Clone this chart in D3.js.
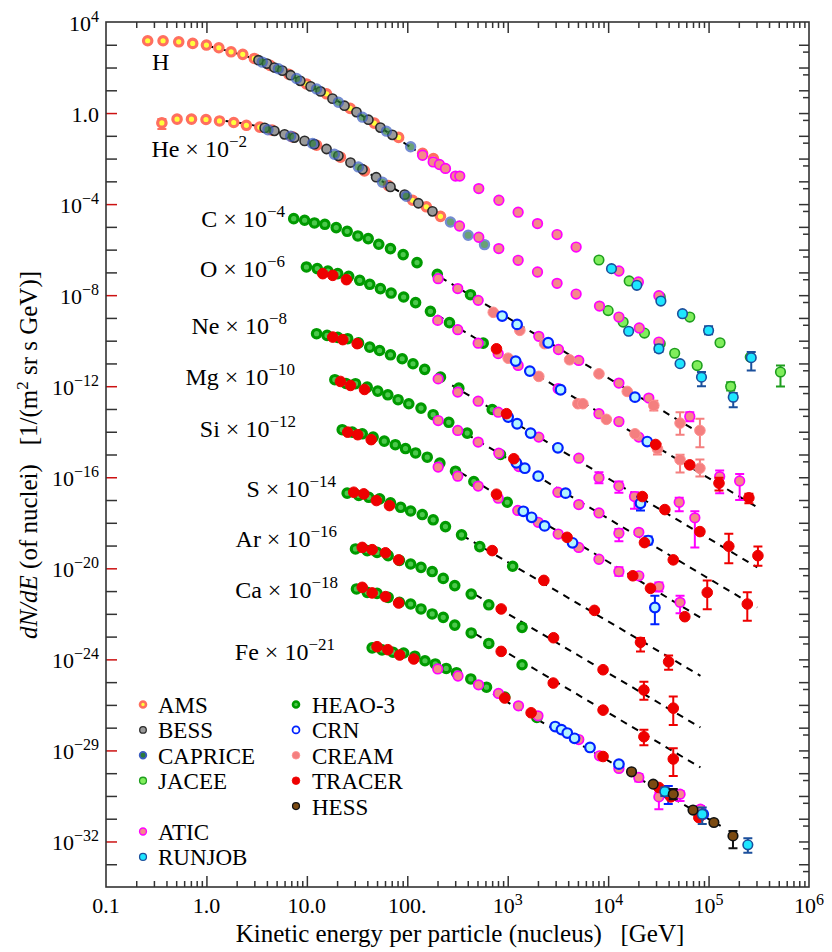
<!DOCTYPE html>
<html>
<head>
<meta charset="utf-8">
<script src="https://cdn.jsdelivr.net/npm/d3@7"></script>
<style>
  body { margin: 0; background: #fff; }
  text { font-family: "Liberation Serif", "Times New Roman", "DejaVu Serif", serif; fill: #000; }
</style>
</head>
<body>
<svg id="chart" width="832" height="952"></svg>
<script>
// points are [E (GeV), scaled flux] or [E, flux, errLow, errHigh]

// H
const H_AMS = [[0.26,1.5e3],[0.37,1.5e3],[0.53,1.35e3],[0.73,1.15e3],[1.0,9.7e2],[1.33,7.4e2],[1.76,4.9e2],[2.3,3.8e2],[3.0,2.5e2],[4.3,124],[6.6,51],[9.9,19],[15.7,7.0],[27,1.6],[47,0.36],[82,0.085],[142,0.017],[182,0.010]];
const H_BESS = [[3.3,210],[4.0,149],[4.75,100],[5.7,73],[6.9,46],[8.6,26],[10.9,14.8],[13.7,8.9],[18,4.3],[23.7,2.1],[31.2,1.1],[41,0.51],[54,0.23],[71,0.11]];
const H_CAPRICE = [[3.6,173],[5.2,88],[7.9,33],[12.5,11.5],[20.6,3.0],[35.8,0.66],[62,0.16],[108,0.033]];
const H_ATIC = [[142,0.014],[181,0.0071],[209,0.0055],[240,0.0037],[302,1.7e-3],[333,1.7e-3],[515,4.8e-4],[817,1.48e-4],[1.27e3,4.4e-5],[1.98e3,1.39e-5],[3.1e3,4.6e-6],[4.8e3,1.3e-6],[1.28e4,1.15e-7],[2.0e4,3.8e-8],[3.2e4,9.5e-9]];
const H_JACEE = [[8.1e3,3.5e-7],[1.62e4,4.2e-8],[3.3e4,8.3e-9],[6.5e4,1.09e-9],[1.3e5,8.1e-11],[2.6e5,1.9e-11],[5.2e5,4.2e-12,9.8e-13,8.1e-12]];
const H_RUNJOB = [[1.08e4,1.46e-7],[1.93e4,2.7e-8],[3.35e4,5.5e-9],[5.5e4,1.53e-9],[1.0e5,2.8e-10,1.9e-10,4.3e-10],[2.66e5,1.8e-11,4.9e-12,3.2e-11]];

// He x 1e-2
const HE_AMS = [[0.36,0.37,0.2,0.55],[0.51,0.54],[0.71,0.54],[0.99,0.52],[1.35,0.45],[1.87,0.385],[2.5,0.29],[3.4,0.24],[4.5,0.177],[7.2,0.0898],[12.5,0.0387],[21.6,0.0115],[37.5,2.87e-3],[65,6.5e-4],[113,1.48e-4],[155,7.6e-5],[214,2.9e-5]];
const HE_BESS = [[3.8,0.223],[4.75,0.165],[6.0,0.116],[7.5,0.0836],[9.5,0.0598],[11.9,0.0429],[15.7,0.0264],[20.6,0.0132],[27.2,6.7e-3],[35.8,3.4e-3],[49,1.52e-3],[68,5.7e-4],[94,2.6e-4],[129,1.09e-4],[178,4.8e-5]];
const HE_CAPRICE = [[4.1,0.186],[6.9,0.096],[11.4,0.046],[18.8,0.0156],[32.6,4.3e-3],[56.6,9.1e-4],[98,2.2e-4],[269,1.64e-5],[404,4.3e-6],[587,1.66e-6]];
const HE_ATIC = [[331,1.09e-5],[515,3.5e-6],[815,1.11e-6],[1.27e3,3.4e-7],[1.98e3,1.04e-7],[3.1e3,3.3e-8],[4.8e3,1.12e-8],[8.2e3,3.3e-9],[1.28e4,1.09e-9],[2.04e4,3.6e-10],[3.2e4,8.7e-11]];
const HE_JACEE = [[1.0e4,2.1e-9],[1.41e4,6.6e-10],[2.3e4,2.15e-10],[3.3e4,7.4e-11],[4.6e4,2.8e-11],[7.7e4,8.1e-12],[1.66e5,9.8e-13,6.5e-13,1.5e-12]];
const HE_RUNJOB = [[1.6e4,2.6e-10],[3.2e4,4.4e-11,3.2e-11,6.6e-11],[5.2e4,9.8e-12],[8.5e4,2.5e-12,1.0e-12,4.2e-12],[1.76e5,3.3e-13,1.2e-13,5e-13]];

// C x 1e-4
const C_HEAO = [[7.4,2.3e-5],[9.5,1.95e-5],[11.9,1.49e-5],[15.1,1.3e-5],[19.6,9.3e-6],[25.2,6.4e-6],[32.2,4.0e-6],[40.8,3.06e-6],[52,1.72e-6],[68,1.11e-6],[91,6.05e-7],[125,2.7e-7],[199,8.2e-8],[426,1.05e-8]];
const C_ATIC = [[203,5.3e-8],[318,1.94e-8],[508,5.9e-9],[2.04e3,1.55e-10],[3.2e3,4.1e-11],[5.1e3,1.36e-11],[1.28e4,1.37e-12],[2.54e4,3.0e-13],[6.5e4,4.7e-14,2.9e-14,7.2e-14]];
const C_CREAM = [[718,1.76e-9],[1.32e3,2.84e-10],[2.33e3,7.4e-11],[4.13e3,1.45e-11],[8.1e3,3.5e-12],[1.55e4,5.9e-13],[2.85e4,1.43e-13,8.5e-14,2.3e-13],[5.2e4,2.4e-14,7.4e-15,7.2e-14],[8.2e4,1.14e-14,2.1e-15,3.7e-14]];
const C_CRN = [[881,1.21e-9],[1.24e3,5.2e-10],[2.53e3,8.1e-11],[1.85e4,3.3e-13]];

// O x 1e-6
const O_HEAO = [[9.9,1.73e-7],[12.7,1.47e-7],[16.2,1.15e-7],[20.3,8.8e-8],[26.1,6.7e-8],[33.6,4.5e-8],[42.3,3.0e-8],[54,1.94e-8],[69,1.24e-8],[92,8.3e-9],[121,4.7e-9],[170,1.95e-9],[263,6.2e-10],[570,7.8e-11]];
const O_TRACER = [[14.4,8.8e-8],[18.1,7.4e-8],[24.8,4.8e-8],[773,4.4e-11],[2.97e4,2.75e-15],[6.5e4,3.5e-16],[1.27e5,5.5e-17,2.6e-17,9.5e-17],[2.52e5,1.25e-17,7.2e-18,1.9e-17]];
const O_ATIC = [[201,7.8e-10],[318,3.05e-10],[508,7.8e-11],[804,2.7e-11],[1.27e3,8.2e-12],[3.18e3,7.8e-13],[8.1e3,6.2e-14],[1.28e4,2.8e-14],[2.02e4,5.8e-15],[1.29e5,1.07e-16,2.0e-17,2.0e-16],[2.04e5,6.9e-17,1.0e-17,1.4e-16]];
const O_CREAM = [[1.01e3,1.7e-11],[2.04e3,2.7e-12],[5.0e3,1.7e-13],[5.6e3,1.7e-13],[9.6e3,3.5e-14],[1.85e4,8.1e-15],[3.1e4,1.78e-15,1.0e-15,2.95e-15],[5.2e4,5.9e-16,1.6e-16,9.8e-16],[8.2e4,2.5e-16,1.07e-16,6e-16]];
const O_CRN = [[1.2e3,1.27e-11],[1.66e3,4.6e-12],[3.36e3,7.0e-13],[2.45e4,3.7e-15]];

// Ne x 1e-8
const NE_HEAO = [[12.5,2.03e-10],[15.9,1.71e-10],[20.3,1.4e-10],[25.5,1.22e-10],[32.7,8.0e-11],[42.3,5.2e-11],[53,3.7e-11],[68,2.4e-11],[89,1.61e-11],[114,9.7e-12],[149,5.5e-12],[214,2.5e-12],[326,8.2e-13],[701,9.5e-14]];
const NE_TRACER = [[18.1,1.44e-10],[22.8,1.11e-10],[31.7,7.4e-11],[973,6.2e-14],[2.19e4,1.42e-17],[3.67e4,3.8e-18],[8.2e4,4.1e-19],[1.59e5,9.3e-20,1.66e-20,3.3e-19],[3.1e5,3.6e-20,1.3e-20,9e-20]];
const NE_ATIC = [[203,2.1e-12],[318,5.5e-13],[508,2.2e-13],[804,7.2e-14],[2.04e3,5.8e-15],[5.1e3,6.9e-16],[8.1e3,9.5e-17,5.5e-17,1.66e-16],[1.28e4,4.1e-17,2.1e-17,6.5e-17],[1.83e4,1.42e-17,4.1e-18,2.2e-17],[5.1e4,8e-18,3.2e-18,1.26e-17],[7.3e4,1.65e-18,8.3e-20,3.2e-18]];
const NE_CRN = [[1.01e3,4.4e-14],[1.24e3,2.24e-14],[1.69e3,8.7e-15],[3.16e3,1.97e-15],[2.1e4,7.2e-18,3.5e-18,1.4e-17]];

// Mg x 1e-10
const MG_HEAO = [[19.0,1.93e-12],[24.5,1.32e-12],[30.5,1.29e-12],[39.9,9.1e-13],[50.8,6.1e-13],[64,4.2e-13],[81,2.56e-13],[103.5,1.7e-13],[137,1.09e-13],[181,5.6e-14],[259,2.6e-14],[395,8.7e-15],[847,1.0e-15]];
const MG_TRACER = [[21.6,1.62e-12],[27.2,1.08e-12],[37.5,7.2e-13],[1.15e3,6.5e-16],[2.3e4,1.35e-19],[4.45e4,2.35e-20],[9.7e4,8.7e-22,1.6e-22,2.9e-21],[2.43e5,2.7e-22,5e-23,8.9e-22]];
const MG_ATIC = [[203,3.1e-14],[318,1.14e-14],[508,3.5e-15],[815,1.14e-15],[1.29e3,2.95e-16],[3.16e3,2.2e-17],[5.1e3,6.3e-18],[8.1e3,2.7e-18],[1.28e4,3.5e-19,1.55e-19,5.4e-19],[2.02e4,3.8e-19]];
const MG_CRN = [[1.22e3,4.3e-16],[1.48e3,2.5e-16],[2.01e3,1.12e-16],[3.77e3,2.0e-17],[2.5e4,1.66e-19,1.1e-19,2.5e-19]];

// Si x 1e-12
const SI_HEAO = [[22.5,1.23e-14],[28.3,9.6e-15],[35.6,8.1e-15],[45.7,5.8e-15],[59,3.85e-15],[76,2.7e-15],[96,1.83e-15],[121,1.17e-15],[158,7.6e-16],[211,4.2e-16],[302,1.85e-16],[460,6.5e-17],[989,8e-18]];
const SI_TRACER = [[25.5,9.6e-15],[32.1,7.4e-15],[43.7,4.5e-15],[773,1.8e-17],[3.9e3,2.3e-19],[1.76e4,4.7e-21],[2.64e4,1.32e-21],[5.8e4,7.5e-23]];
const SI_ATIC = [[203,2.8e-16],[318,1.12e-16],[508,4.1e-17],[804,1.2e-17],[1.26e3,3.5e-18],[2.01e3,1.05e-18],[3.18e3,3.2e-19],[5.1e3,8.3e-20],[8.1e3,2.5e-20],[1.28e4,7.2e-21,4.7e-21,1.1e-20],[2.02e4,4.7e-21],[3.2e4,1.58e-21,9.5e-22,2.4e-21],[5.2e4,3.2e-22,1.05e-22,6.3e-22]];
const SI_CRN = [[1.43e3,3.2e-18],[1.73e3,1.74e-18],[2.33e3,7.3e-19],[4.42e3,1.32e-19],[2.92e4,1.9e-22,3.5e-23,6.3e-22]];

// S x 1e-14
const S_HEAO = [[25.2,2.0e-17],[32.9,1.58e-17],[41.4,1.32e-17],[53,1.12e-17],[68,7.6e-18],[86,4.8e-18],[108,3.3e-18],[141,2.3e-18],[181,1.35e-18],[240,6.8e-19],[347,2.95e-19],[527,9e-20],[1.12e3,1.23e-20]];
const S_TRACER = [[29.3,2.2e-17],[36.9,1.86e-17],[49.3,9.5e-18],[66.5,5.7e-18],[701,6.0e-20],[2.29e3,2.95e-21],[7.3e3,1.42e-22],[2.1e4,5.6e-24,2.2e-24,8.7e-24],[4.0e4,7.9e-25,3.5e-25,1.48e-24]];

// Ar x 1e-16
const AR_HEAO = [[30.5,7.1e-20],[39.9,6.0e-20],[50,5.0e-20],[64.5,3.6e-20],[83.6,2.24e-20],[108,1.55e-20],[137,1.1e-20],[177,7.2e-21],[228,3.6e-21],[297,1.74e-21],[433,7.4e-22],[648,2.5e-22],[1.39e3,2.55e-23]];
const AR_TRACER = [[35.6,8.3e-20],[44.7,6.6e-20],[60.7,4.8e-20],[82,2.34e-20],[861,1.64e-22],[2.86e3,8.9e-24],[8.9e3,3.5e-25],[2.27e4,4.5e-26,1.7e-26,1.05e-25],[4.45e4,7.2e-27,1.3e-27,2.35e-26]];

// Ca x 1e-18
const CA_HEAO = [[31.2,1.24e-21],[39.9,8.8e-22],[50,7.9e-22],[64.5,5.3e-22],[83.6,3.2e-22],[108,2.7e-22],[137,1.64e-22],[177,9.9e-23],[228,7.0e-23],[297,3.2e-23],[433,1.45e-23],[648,5.0e-24],[1.39e3,5.8e-25]];
const CA_TRACER = [[35.6,1.46e-21],[44.7,8.3e-22],[60.7,5.7e-22],[82,3.0e-22],[861,2.24e-24],[2.84e3,9.1e-26],[8.9e3,5.9e-27],[2.27e4,4.0e-28,1.7e-28,8.1e-28],[4.45e4,4.2e-29,7.6e-30,1.23e-28]];

// Fe x 1e-21
const FE_HEAO = [[44.7,3.2e-24],[56,2.6e-24],[72,2.07e-24],[92,1.9e-24],[119,1.38e-24],[150,8.7e-25],[190,6.3e-25],[244,4.0e-25],[309,2.6e-25],[429,1.38e-25],[615,6.0e-26],[935,2.2e-26],[1.95e3,2.8e-27]];
const FE_TRACER = [[50,3.6e-24],[64,2.66e-24],[84,1.55e-24],[116,1.04e-24],[935,2.0e-26],[1.71e3,4.5e-27],[8.9e3,5.4e-29],[3.2e4,2.35e-30],[4.2e4,9.1e-31],[8.0e4,1.12e-31]];
const FE_ATIC = [[201,3.8e-25],[320,1.86e-25],[512,7.6e-26],[809,3.2e-26],[1.28e3,9.1e-27],[2.0e3,3.3e-27],[5.1e3,3.0e-28],[8.2e3,5.8e-29],[1.28e4,1.62e-29],[2.02e4,6.5e-30,4.3e-30,9.1e-30],[3.2e4,9.1e-31,2.6e-31,1.4e-30],[5.2e4,1.2e-30,6e-31,1.66e-30],[8.3e4,2.6e-31,1.6e-31,3.6e-31]];
const FE_CRN = [[2.97e3,1.12e-27],[3.43e3,8.2e-28],[3.92e3,5.8e-28],[4.63e3,3.4e-28],[6.6e3,1.35e-28],[1.28e4,2.5e-29],[3.97e4,1.28e-30,4.4e-31,2.75e-30],[8.85e4,1.58e-31]];
const FE_RUNJOB = [[3.67e4,1.55e-30,1.0e-30,2.35e-30],[8.65e4,1.58e-31,5.8e-32,3.1e-31],[2.46e5,7.1e-33,3.2e-33,1.4e-32]];
const FE_HESS = [[1.71e4,1.15e-29],[2.81e4,3.3e-30],[4.45e4,1.2e-30,7.2e-31,2e-30],[7.0e4,2.4e-31],[1.13e5,6.8e-32],[1.75e5,1.76e-32,5e-33,2.9e-32]];

// dashed model curves
const fitH = [[1.0,9.2e2],[1.73,5.0e2],[3.45,1.9e2],[6.9,46],[13.7,8.9],[27.2,1.6],[54,0.23],[121,0.023]];
const fitHe = [[1.55,0.45],[3.45,0.247],[6.9,0.096],[13.7,0.033],[27.2,6.7e-3],[54,1.12e-3],[108,1.75e-4],[214,2.9e-5]];
const fitC = [[214,6.1e-8],[8.3e4,8.4e-15]];
const fitO = [[199,1.3e-9],[3.05e5,4.8e-18]];
const fitNe = [[280,1.08e-12],[3.05e5,1.1e-20]];
const fitMg = [[302,1.55e-14],[3.05e5,1.9e-22]];
const fitSi = [[339,1.62e-16],[8.3e4,6.8e-23]];
const fitS = [[355,2.75e-19],[8.3e4,1.9e-25]];
const fitAr = [[478,6.9e-22],[8.3e4,1.02e-27]];
const fitCa = [[478,1.3e-23],[8.3e4,1.78e-29]];
const fitFe = [[427,1.15e-25],[1.32e5,4.8e-32]];

// tick labels
const xTickLabels = [[0.1,'0.1',''],[1,'1.0',''],[10,'10.0',''],[100,'100.',''],[1e3,'10','3'],[1e4,'10','4'],[1e5,'10','5'],[1e6,'10','6']];
const yTickLabels = [[1e4,'10','4'],[1,'1.0',''],[1e-4,'10','\u22124'],[1e-8,'10','\u22128'],[1e-12,'10','\u221212'],[1e-16,'10','\u221216'],[1e-20,'10','\u221220'],[1e-24,'10','\u221224'],[1e-28,'10','\u221229'],[1e-32,'10','\u221232']];
const elements = ['H','He','C','O','Ne','Mg','Si','S','Ar','Ca','Fe'];
const scaleExps = ['','\u22122','\u22124','\u22126','\u22128','\u221210','\u221212','\u221214','\u221216','\u221218','\u221221'];

// marker styles per experiment
const styles = {
  'AMS':     {stroke:'#ff6f5f', fill:'#ffff3c', r:4.2, sw:3.2},
  'BESS':    {stroke:'#2a2a2a', fill:'#9a9a9a', r:4.6, sw:1.6},
  'CAPRICE': {stroke:'#3a5cc0', fill:'#2a7a3c', r:4.6, sw:2.2, op:0.7},
  'JACEE':   {stroke:'#1e9e1e', fill:'#80ee5c', r:4.8, sw:1.6},
  'ATIC':    {stroke:'#ff00ff', fill:'#f4898a', r:4.8, sw:1.7},
  'RUNJOB':  {stroke:'#1b4f9c', fill:'#1ee6ff', r:4.8, sw:1.6},
  'HEAO-3':  {stroke:'#009a00', fill:'#4cc94c', r:4.2, sw:3.2},
  'CRN':     {stroke:'#0022ff', fill:'#b4f6ff', legendFill:'#ffffff', r:4.8, sw:2.2},
  'CREAM':   {stroke:'#ff9090', fill:'#f47f7f', r:5.3, sw:1},
  'TRACER':  {stroke:'#ee0000', fill:'#ee0000', r:5.3, sw:1},
  'HESS':    {stroke:'#111111', fill:'#7b4a12', r:4.8, sw:1.6}
};

// drawing order (later on top)
const layers = [
  ['HEAO-3', [C_HEAO, O_HEAO, NE_HEAO, MG_HEAO, SI_HEAO, S_HEAO, AR_HEAO, CA_HEAO, FE_HEAO]],
  ['JACEE', [H_JACEE, HE_JACEE]],
  ['AMS', [H_AMS, HE_AMS]],
  ['BESS', [H_BESS, HE_BESS]],
  ['CAPRICE', [H_CAPRICE, HE_CAPRICE]],
  ['ATIC', [H_ATIC, HE_ATIC, C_ATIC, O_ATIC, NE_ATIC, MG_ATIC, SI_ATIC, FE_ATIC]],
  ['CREAM', [C_CREAM, O_CREAM]],
  ['CRN', [C_CRN, O_CRN, NE_CRN, MG_CRN, SI_CRN, FE_CRN]],
  ['TRACER', [O_TRACER, NE_TRACER, MG_TRACER, SI_TRACER, S_TRACER, AR_TRACER, CA_TRACER, FE_TRACER]],
  ['RUNJOB', [H_RUNJOB, HE_RUNJOB, FE_RUNJOB]],
  ['HESS', [FE_HESS]]
];
const fits = [fitH, fitHe, fitC, fitO, fitNe, fitMg, fitSi, fitS, fitAr, fitCa, fitFe];

const legendCols = [
  ['AMS','BESS','CAPRICE','JACEE',null,'ATIC','RUNJOB'],
  ['HEAO-3','CRN','CREAM','TRACER','HESS']
];

// ---------- layout ----------
const svg = d3.select('#chart');
const pL = 106, pR = 809, pT = 22, pB = 887;
const x = d3.scaleLog().domain([0.1, 1e6]).range([pL, pR]);
const y = d3.scaleLog().domain([1e4, 1e-34]).range([pT, pB]);
const axisCol = '#333';

// ticks
function decades(a, b){ let r=[]; for(let e=a; e<=b; e++) r.push(Math.pow(10,e)); return r; }
const xMajor = decades(0,5);
const xMinor = [];
decades(-1,5).forEach(d=>{ for(let k=2;k<10;k++) xMinor.push(d*k); });

function tickGroup(axis, tx, ty){
  const g = svg.append('g').attr('transform', `translate(${tx},${ty})`).call(axis);
  g.select('.domain').remove();
  g.selectAll('line').attr('stroke', axisCol).attr('stroke-width', 1.5);
  return g;
}
tickGroup(d3.axisBottom(x).tickValues(xMajor).tickSize(-11).tickFormat(''), 0, pB);
tickGroup(d3.axisBottom(x).tickValues(xMinor).tickSize(-6).tickFormat(''), 0, pB);
tickGroup(d3.axisTop(x).tickValues(xMajor).tickSize(-11).tickFormat(''), 0, pT);
tickGroup(d3.axisTop(x).tickValues(xMinor).tickSize(-6).tickFormat(''), 0, pT);

const yDec = decades(-33, 3);
const labelled = new Set(yTickLabels.map(d=>d[0].toExponential()));
const gl = tickGroup(d3.axisLeft(y).tickValues(yDec).tickSize(-11).tickFormat(''), pL, 0);
gl.selectAll('.tick line').attr('stroke', d => labelled.has(d.toExponential()) ? '#cc1111' : axisCol);
tickGroup(d3.axisRight(y).tickValues(yDec).tickSize(-10).tickFormat(''), pR, 0);
tickGroup(d3.axisRight(y).tickValues(yDec.map(d=>d*0.5)).tickSize(-6).tickFormat(''), pR, 0);

svg.append('rect').attr('x', pL).attr('y', pT).attr('width', pR-pL).attr('height', pB-pT)
  .attr('fill','none').attr('stroke', axisCol).attr('stroke-width', 1.6);

// tick labels with superscripts
function supText(t, main, sup, supSize, rise){
  t.append('tspan').text(main);
  if(sup) t.append('tspan').attr('font-size', supSize).attr('dy', -rise).text(sup);
}
xTickLabels.forEach(d=>{
  const t = svg.append('text').attr('x', x(d[0])).attr('y', 913).attr('text-anchor','middle').attr('font-size', 22);
  supText(t, d[1], d[2], 16, 8);
});
yTickLabels.forEach(d=>{
  const t = svg.append('text').attr('x', 99).attr('y', y(d[0]) + 8.5).attr('text-anchor','end').attr('font-size', 22);
  supText(t, d[1], d[2], 16, 9);
});

// dashed fits under the points
const gFit = svg.append('g').attr('fill','none').attr('stroke','#000').attr('stroke-width',2).attr('stroke-dasharray','7,6');
fits.forEach(f=>{
  const ln = d3.line().x(d=>x(d[0])).y(d=>y(d[1])).curve(f.length > 2 ? d3.curveMonotoneX : d3.curveLinear);
  gFit.append('path').attr('d', ln(f));
});

// data points
layers.forEach(([name, sets])=>{
  const st = styles[name];
  const g = svg.append('g').attr('class', 'exp-' + name);
  const pts = [].concat(...sets);
  g.selectAll('path.err').data(pts.filter(d=>d.length > 3)).enter().append('path')
    .attr('class','err')
    .attr('d', d=>{
      const cx = x(d[0]), y1 = y(d[2]), y2 = y(d[3]);
      return `M${cx},${y1}V${y2}M${cx-4.5},${y1}h9M${cx-4.5},${y2}h9`;
    })
    .attr('fill','none').attr('stroke', name=='CREAM' ? '#f47f7f' : st.stroke).attr('stroke-width', 2);
  g.selectAll('circle').data(pts).enter().append('circle')
    .attr('cx', d=>x(d[0])).attr('cy', d=>y(d[1])).attr('r', st.r)
    .attr('fill', st.fill).attr('stroke', st.stroke).attr('stroke-width', st.sw)
    .attr('opacity', st.op || 1);
});

// element labels
const labelPos = [[152,70,'start'],[247,157],[285,227],[285,277],[287,334],[295,385],[296,437],[336,497],[337,547],[338,598],[335,660]];
elements.forEach((el,i)=>{
  const p = labelPos[i];
  const t = svg.append('text').attr('x', p[0]).attr('y', p[1]).attr('text-anchor', p[2] || 'end').attr('font-size', 24);
  if(!scaleExps[i]){ t.text(el); return; }
  t.append('tspan').text(el + ' \u00d7 10');
  t.append('tspan').attr('font-size', 17).attr('dy', -10).text(scaleExps[i]);
});

// legend
const legX = [[143,158],[296,312]];
legendCols.forEach((col,ci)=>{
  col.forEach((name,ri)=>{
    if(!name) return;
    const st = styles[name];
    const cy = 704.5 + ri*25.4;
    svg.append('circle').attr('cx', legX[ci][0]).attr('cy', cy).attr('r', st.r*0.72)
      .attr('fill', st.legendFill || st.fill).attr('stroke', st.stroke).attr('stroke-width', st.sw*0.8);
    svg.append('text').attr('x', legX[ci][1]).attr('y', cy + 8.5).attr('font-size', 23).text(name);
  });
});

// axis titles
svg.append('text').attr('x', 460).attr('y', 942).attr('text-anchor','middle').attr('font-size', 25)
  .style('white-space','pre').text('Kinetic energy per particle (nucleus)   [GeV]');

const yt = svg.append('text').attr('transform','translate(37,455) rotate(-90)').attr('text-anchor','middle')
  .attr('font-size', 25).style('white-space','pre');
yt.append('tspan').attr('font-style','italic').text('dN/dE');
yt.append('tspan').text(' (of nuclei)   [1/(m');
yt.append('tspan').attr('font-size', 17).attr('dy', -9).text('2');
yt.append('tspan').attr('dy', 9).text(' sr s GeV)]');
</script>
</body>
</html>
